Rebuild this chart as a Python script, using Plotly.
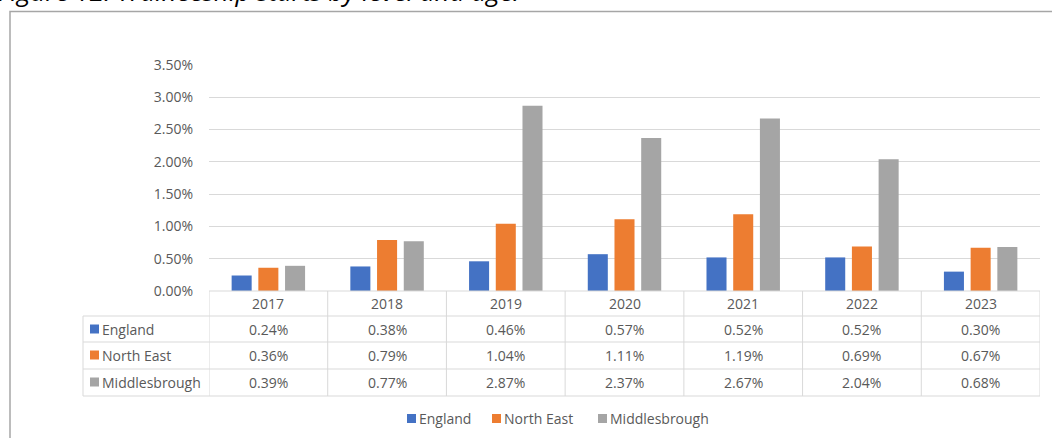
import plotly.graph_objects as go

years = ["2017", "2018", "2019", "2020", "2021", "2022", "2023"]
series_names = ["England", "North East", "Middlesbrough"]
england = [0.24, 0.38, 0.46, 0.57, 0.52, 0.52, 0.30]
north_east = [0.36, 0.79, 1.04, 1.11, 1.19, 0.69, 0.67]
middlesbrough = [0.39, 0.77, 2.87, 2.37, 2.67, 2.04, 0.68]
colors = ["#4472C4", "#ED7D31", "#A5A5A5"]
title_text = "Figure 12: Traineeship starts by level and age."

series_values = [england, north_east, middlesbrough]

FONT = "Open Sans"
TXT = "#595959"
GRID = "#d9d9d9"
FS = 14

W_FIG, H_FIG = 1052, 438
L, R, T, B = 209, 1040, 65, 291
PW, PH = R - L, B - T


def px_x(x):
    return (x - L) / PW


def px_y(y):
    return (B - y) / PH


fig = go.Figure()
for name, vals, col in zip(series_names, series_values, colors):
    fig.add_trace(go.Bar(
        x=years, y=[v / 100 for v in vals], name=name,
        marker=dict(color=col, line=dict(width=0)),
        hovertemplate="%{x}: %{y:.2%}<extra>" + name + "</extra>",
        showlegend=False,
    ))

shapes = []
annotations = []

# outer chart frame
shapes.append(dict(type="rect", xref="paper", yref="paper",
                   x0=px_x(10), x1=px_x(1060), y0=px_y(450), y1=px_y(11.5),
                   line=dict(color="#a6a6a6", width=1.5), fillcolor="rgba(0,0,0,0)",
                   layer="below"))

# data table lines
row_lines = [316, 342, 369, 396]
shapes.append(dict(type="line", xref="paper", yref="paper",
                   x0=0, x1=1, y0=px_y(291), y1=px_y(291),
                   line=dict(color=GRID, width=1)))
for yl in row_lines:
    shapes.append(dict(type="line", xref="paper", yref="paper",
                       x0=px_x(83), x1=1, y0=px_y(yl), y1=px_y(yl),
                       line=dict(color=GRID, width=1)))
shapes.append(dict(type="line", xref="paper", yref="paper",
                   x0=px_x(83), x1=px_x(83), y0=px_y(316), y1=px_y(396),
                   line=dict(color=GRID, width=1)))
for i in range(len(years) + 1):
    shapes.append(dict(type="line", xref="x", yref="paper",
                       x0=i - 0.5, x1=i - 0.5, y0=px_y(291), y1=px_y(396),
                       line=dict(color=GRID, width=1)))

# header years
for i, yr in enumerate(years):
    annotations.append(dict(x=i, xref="x", y=px_y(303.5), yref="paper",
                            text=yr, showarrow=False, xanchor="center", yanchor="middle",
                            font=dict(family=FONT, size=FS, color=TXT)))

row_centers = [329, 355, 382]
for name, vals, col, yc in zip(series_names, series_values, colors, row_centers):
    shapes.append(dict(type="rect", xref="paper", yref="paper",
                       x0=px_x(90), x1=px_x(99), y0=px_y(yc + 4.5), y1=px_y(yc - 4.5),
                       line=dict(width=0), fillcolor=col))
    annotations.append(dict(x=px_x(100), xref="paper", y=px_y(yc), yref="paper",
                            text=name, showarrow=False, xanchor="left", yanchor="middle",
                            font=dict(family=FONT, size=FS, color=TXT)))
    for i, v in enumerate(vals):
        annotations.append(dict(x=i, xref="x", y=px_y(yc), yref="paper",
                                text=f"{v:.2f}%", showarrow=False,
                                xanchor="center", yanchor="middle",
                                font=dict(family=FONT, size=FS, color=TXT)))

# bottom legend
legend_x = [407, 492, 598]
for name, col, lx in zip(series_names, colors, legend_x):
    shapes.append(dict(type="rect", xref="paper", yref="paper",
                       x0=px_x(lx), x1=px_x(lx + 9), y0=px_y(423), y1=px_y(414),
                       line=dict(width=0), fillcolor=col))
    annotations.append(dict(x=px_x(lx + 10), xref="paper", y=px_y(418.5), yref="paper",
                            text=name, showarrow=False, xanchor="left", yanchor="middle",
                            font=dict(family=FONT, size=FS, color=TXT)))

# title (cut off at top of image)
annotations.append(dict(x=px_x(-4), xref="paper", y=px_y(11), yref="paper",
                        text="<i>" + title_text + "</i>", showarrow=False,
                        xanchor="left", yanchor="bottom",
                        font=dict(family=FONT, size=26, color="#000000")))

fig.update_layout(
    width=W_FIG, height=H_FIG,
    margin=dict(l=L, r=W_FIG - R, t=T, b=H_FIG - B, pad=0, autoexpand=False),
    paper_bgcolor="white", plot_bgcolor="white",
    barmode="group", bargap=0.325, bargroupgap=0.25,
    showlegend=False,
    xaxis=dict(type="category", range=[-0.5, 6.5], showticklabels=False,
               showgrid=False, zeroline=False, showline=False, ticks=""),
    yaxis=dict(range=[0, 0.035], dtick=0.005, tickformat=".2%",
               showgrid=True, gridcolor=GRID, gridwidth=1,
               zeroline=False, showline=False, ticks="",
               ticklabelstandoff=15,
               tickfont=dict(family=FONT, size=FS, color=TXT)),
    shapes=shapes, annotations=annotations,
    font=dict(family=FONT, color=TXT),
)

fig.write_html("out.html")
